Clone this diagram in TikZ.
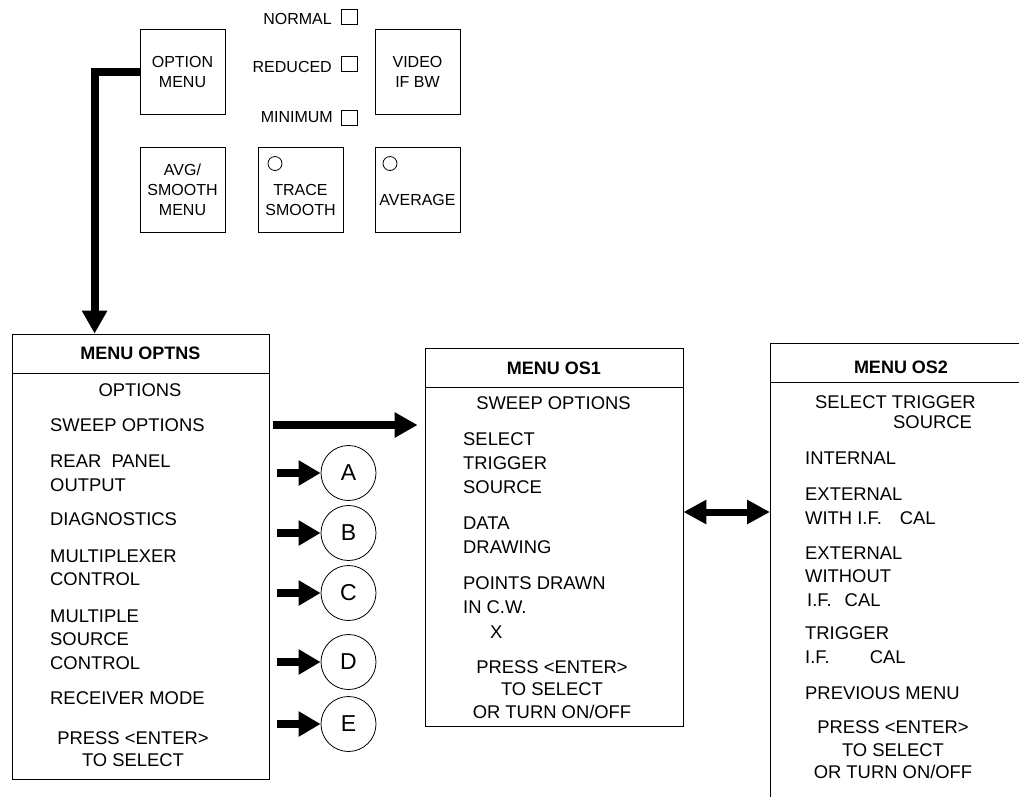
\documentclass[tikz,border=0pt]{standalone}
\usepackage{fontspec}
\setmainfont{Liberation Sans}
\usetikzlibrary{arrows.meta,shapes.geometric}

\tikzset{
  panel/.style={draw, line width=0.8pt, minimum width=85pt, minimum height=85pt,
    inner sep=0pt, align=center, font=\fontsize{16}{20}\selectfont},
  ptxt/.style={inner sep=0pt, align=center, font=\fontsize{16}{20}\selectfont},
  chk/.style={draw, line width=0.8pt, minimum width=16pt, minimum height=15pt, inner sep=0pt},
  led/.style={draw, line width=0.8pt, circle, minimum size=14pt, inner sep=0pt},
  menubox/.style={draw, line width=0.8pt, inner sep=0pt},
  mtitle/.style={inner sep=0pt, font=\bfseries\fontsize{18}{22}\selectfont},
  mleft/.style={inner sep=0pt, anchor=west, align=left, font=\fontsize{18.4}{23.5}\selectfont},
  mctr/.style={inner sep=0pt, align=center, font=\fontsize{18.4}{22.5}\selectfont},
  letter/.style={draw, line width=0.8pt, circle, minimum size=55pt, inner sep=0pt,
    font=\fontsize{23}{26}\selectfont},
  bigarrow/.style={line width=8pt, -{Triangle[length=23pt,width=24pt]}},
  dblarrow/.style={line width=7pt, {Triangle[length=23pt,width=23pt]}-{Triangle[length=23pt,width=23pt]}}
}

\begin{document}
\begin{tikzpicture}[x=1pt,y=-1pt]
\clip (0,0) rectangle (1019,796);

% front panel keys
\node[panel] (optmenu) at (182.5,71.5) {OPTION\\MENU};
\node[panel] (videobw) at (417.5,71.5) {VIDEO\\IF BW};
\node[panel] (avgmenu) at (182.5,189.5) {AVG/\\SMOOTH\\MENU};
\node[panel] (tracesm) at (300.5,189.5) {};
\node[panel] (average) at (417.5,189.5) {};
\node[ptxt] (tracetxt) at (300.5,200) {TRACE\\SMOOTH};
\node[ptxt] (avgtxt) at (417.5,200) {AVERAGE};
\node[led] (traceled) at (275,163.5) {};
\node[led] (avgled) at (390,163.5) {};

% bandwidth selection check boxes
\node[chk] (normalbox) at (349,16.5) {};
\node[chk] (reducedbox) at (349,64) {};
\node[chk] (minimumbox) at (349,117.5) {};
\node[ptxt, anchor=east] (normal) at (332,19) {NORMAL};
\node[ptxt, anchor=east] (reduced) at (332,67) {REDUCED};
\node[ptxt, anchor=east] (minimum) at (333,117) {MINIMUM};

% MENU OPTNS
\node[menubox, minimum width=257pt, minimum height=445pt] (optns) at (140.5,556.5) {};
\draw[line width=0.8pt] (optns.west |- 0,373) -- (optns.east |- 0,373);
\node[mtitle] (optnstitle) at (140.5,353) {MENU OPTNS};
\node[mctr] (optnsopt) at (140,390) {OPTIONS};
\node[mleft] (sweep) at (50,425) {SWEEP OPTIONS};
\node[mleft] (rear) at (50,473) {REAR\ \ PANEL\\OUTPUT};
\node[mleft] (diag) at (50,519) {DIAGNOSTICS};
\node[mleft] (mux) at (50,567.5) {MULTIPLEXER\\CONTROL};
\node[mleft] (msrc) at (50,639.5) {MULTIPLE\\SOURCE\\CONTROL};
\node[mleft] (rcv) at (50,698) {RECEIVER MODE};
\node[mctr] (optnspress) at (133,749) {PRESS <ENTER>\\TO SELECT};

% MENU OS1
\node[menubox, minimum width=258pt, minimum height=378pt] (os1) at (554,537) {};
\draw[line width=0.8pt] (os1.west |- 0,387) -- (os1.east |- 0,387);
\node[mtitle] (os1title) at (554,368) {MENU OS1};
\node[mctr] (os1sweep) at (553.5,403) {SWEEP OPTIONS};
\node[mleft, font=\fontsize{18.4}{24}\selectfont] (os1trig) at (463,463) {SELECT\\TRIGGER\\SOURCE};
\node[mleft, font=\fontsize{18.4}{24}\selectfont] (os1data) at (463,535) {DATA\\DRAWING};
\node[mleft, font=\fontsize{18.4}{24.5}\selectfont] (os1pts) at (463,607.5) {POINTS DRAWN\\IN C.W.\\\hspace*{27pt}X};
\node[mctr] (os1press) at (552,689.5) {PRESS <ENTER>\\TO SELECT\\OR TURN ON/OFF};

% MENU OS2
\node[menubox, minimum width=300pt, minimum height=500pt, anchor=north west] (os2) at (770,343) {};
\draw[line width=0.8pt] (os2.west |- 0,382) -- (os2.east |- 0,382);
\node[mtitle] (os2title) at (901,367) {MENU OS2};
\node[mleft] (os2sel) at (815,402) {SELECT TRIGGER};
\node[mleft] (os2src) at (893,422) {SOURCE};
\node[mleft] (os2int) at (805,458) {INTERNAL};
\node[mleft] (os2ext) at (805,506) {EXTERNAL\\WITH I.F.\hspace*{18pt}CAL};
\node[mleft] (os2extw) at (805,576.5) {EXTERNAL\\WITHOUT\\\hspace*{2pt}I.F.\hspace*{13pt}CAL};
\node[mleft] (os2trig) at (805,645) {TRIGGER\\I.F.\hspace*{40pt}CAL};
\node[mleft] (os2prev) at (805,693) {PREVIOUS MENU};
\node[mctr] (os2press) at (893,750) {PRESS <ENTER>\\TO SELECT\\OR TURN ON/OFF};

% sub-menu markers
\node[letter] (ca) at (348.5,473) {A};
\node[letter] (cb) at (348.5,533) {B};
\node[letter] (cc) at (348.5,593) {C};
\node[letter] (cd) at (348.5,662) {D};
\node[letter] (ce) at (348.5,724) {E};

% connectors
\draw[bigarrow] (optmenu.west) -| ([xshift=83pt]optns.north west);
\draw[bigarrow] ([xshift=4pt]optns.east |- sweep) -- ([xshift=-7pt]os1.west |- sweep);
\foreach \c in {ca,cb,cc,cd,ce}
  \draw[bigarrow, -{Triangle[length=22pt,width=24pt]}] ([xshift=8pt]optns.east |- \c) -- (\c);
\coordinate (link) at (700,512);
\draw[dblarrow] (os1.east |- link) -- (os2.west |- link);
\end{tikzpicture}
\end{document}
